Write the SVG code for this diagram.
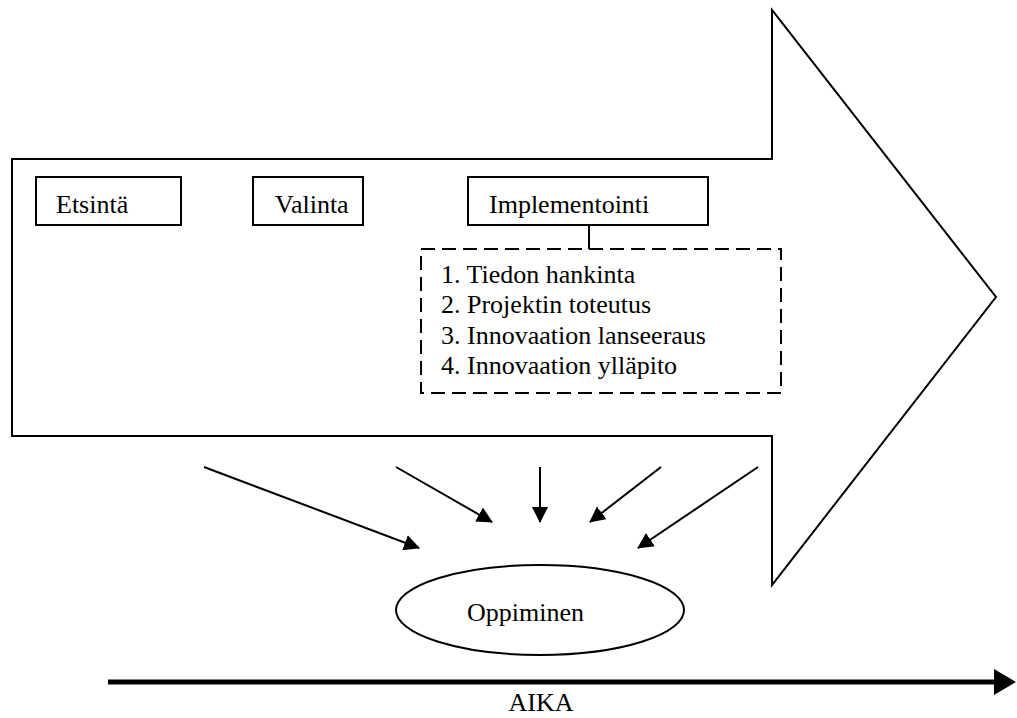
<svg xmlns="http://www.w3.org/2000/svg" width="1017" height="718" viewBox="0 0 1017 718">
  <style>
    .shape { fill: none; stroke: #000; stroke-width: 2; }
    .box { fill: #fff; stroke: #000; stroke-width: 2; }
    .dash { fill: none; stroke: #000; stroke-width: 2; stroke-dasharray: 14 7; }
    .lbl { font-family: "Liberation Serif", "Times New Roman", serif; font-size: 26px; fill: #000; }
    .flow { stroke: #000; stroke-width: 2; fill: none; marker-end: url(#head); }
    .time { stroke: #000; stroke-width: 5; fill: none; }
  </style>
  <defs>
    <marker id="head" markerUnits="userSpaceOnUse" markerWidth="16" markerHeight="16" refX="15" refY="8" orient="auto">
      <path d="M0,0 L16,8 L0,16 z" fill="#000"/>
    </marker>
  </defs>
  <rect width="1017" height="718" fill="#fff"/>

  <!-- large process arrow -->
  <g id="process-arrow">
    <polygon class="shape" points="12,159 772,159 772,10 996,297 772,585 772,436 12,436"/>
  </g>

  <g id="node-etsinta">
    <rect class="box" x="36" y="177" width="145" height="48"/>
    <text class="lbl" x="56" y="213">Etsintä</text>
  </g>
  <g id="node-valinta">
    <rect class="box" x="253" y="177" width="110" height="48"/>
    <text class="lbl" x="275" y="213">Valinta</text>
  </g>
  <g id="node-implementointi">
    <rect class="box" x="468" y="177" width="240" height="48"/>
    <text class="lbl" x="489" y="213">Implementointi</text>
  </g>
  <g id="node-steps">
    <rect class="dash" x="421" y="249" width="360" height="144"/>
    <text class="lbl" x="441" y="283">1. Tiedon hankinta</text>
    <text class="lbl" x="441" y="313">2. Projektin toteutus</text>
    <text class="lbl" x="441" y="344">3. Innovaation lanseeraus</text>
    <text class="lbl" x="441" y="374">4. Innovaation ylläpito</text>
  </g>
  <g id="node-oppiminen">
    <ellipse class="shape" cx="540" cy="610" rx="144" ry="45"/>
    <text class="lbl" x="467" y="621">Oppiminen</text>
  </g>

  <g id="connectors">
    <line class="shape" x1="589" y1="225" x2="589" y2="249"/>
    <line class="flow" x1="204" y1="467" x2="419" y2="548"/>
    <line class="flow" x1="396" y1="467" x2="492" y2="522"/>
    <line class="flow" x1="540" y1="467" x2="540" y2="522"/>
    <line class="flow" x1="661" y1="467" x2="590" y2="522"/>
    <line class="flow" x1="758" y1="467" x2="638" y2="548"/>
  </g>

  <!-- time axis -->
  <g id="time-axis">
    <line class="time" x1="108" y1="682" x2="996" y2="682"/>
    <polygon points="994,669 1016,682 994,695" fill="#000"/>
    <text class="lbl" x="541" y="711" text-anchor="middle">AIKA</text>
  </g>
</svg>
